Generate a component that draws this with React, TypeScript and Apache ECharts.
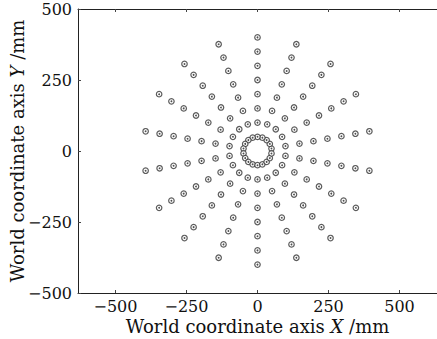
import React, { useEffect, useRef } from "react";
import * as echarts from "echarts";

// Target positions: polar grid
const angles = [10, 30, 50, 70, 90, 110, 130, 150, 170, 190, 210, 230, 250, 270, 290, 310, 330, 350]; // degrees
const radii = [50, 100, 150, 200, 250, 300, 350, 400]; // mm
const xTicks = [-500, -250, 0, 250, 500];
const yTicks = [-500, -250, 0, 250, 500];

const FONT = "DejaVu Serif";
const FS = 16;
const NFS = 18;
const fmt = (v: number) => String(v).replace("-", "\u2212");

export default function App() {
  const ref = useRef<HTMLDivElement>(null);
  useEffect(() => {
    document.body.style.margin = "0";
    const chart = echarts.init(ref.current!, null, { renderer: "svg" });
    const points: [number, number][] = [];
    for (const a of angles) for (const r of radii) points.push([r, a]);

    const gridLeft = 78, gridTop = 9, gridH = 284, gridRight = 0;
    const W = 437;
    const gridW = W - gridLeft - gridRight;
    const scale = gridH / 1000; // px per mm
    const xHalf = gridW / 2 / scale;
    const cx = gridLeft + gridW / 2;
    const cy = gridTop + gridH / 2;

    const axisCommon = {
      axisLine: { show: true, onZero: false, lineStyle: { color: "#222", width: 1 } },
      axisTick: { show: true, inside: true, length: 3, lineStyle: { color: "#444" } },
      splitLine: { show: false },
    };
    const nameStyle = {
      color: "#111",
      fontSize: NFS,
      fontFamily: FONT,
      rich: { i: { fontStyle: "italic", fontSize: NFS, fontFamily: FONT, color: "#111" } },
    };

    chart.setOption({
      animation: false,
      backgroundColor: "#fff",
      textStyle: { fontFamily: FONT },
      grid: {
        left: gridLeft,
        top: gridTop,
        height: gridH,
        right: gridRight,
        containLabel: false,
        outerBoundsMode: "none",
      },
      xAxis: [
        {
          type: "value",
          min: -xHalf,
          max: xHalf,
          ...axisCommon,
          axisTick: { ...axisCommon.axisTick, customValues: xTicks },
          axisLabel: {
            customValues: xTicks,
            formatter: fmt,
            color: "#111",
            fontSize: FS,
            lineHeight: 14,
            fontFamily: FONT,
            margin: 6,
          },
          name: "World coordinate axis {i|X} /mm",
          nameLocation: "middle",
          nameGap: 24,
          nameMoveOverlap: false,
          nameTextStyle: nameStyle,
        },
        {
          type: "value",
          position: "top",
          min: -xHalf,
          max: xHalf,
          ...axisCommon,
          axisTick: { ...axisCommon.axisTick, customValues: xTicks },
          axisLabel: { show: false },
        },
      ],
      yAxis: {
        type: "value",
        min: -500,
        max: 500,
        interval: 250,
        ...axisCommon,
        axisTick: { ...axisCommon.axisTick, customValues: yTicks },
        axisLabel: {
          customValues: yTicks,
          formatter: fmt,
          color: "#111",
          fontSize: FS,
          fontFamily: FONT,
          margin: 6,
        },
        name: "World coordinate axis {i|Y} /mm",
        nameLocation: "middle",
        nameGap: 52,
        nameMoveOverlap: false,
        nameTextStyle: nameStyle,
      },
      polar: { center: [cx, cy], radius: 400 * scale },
      angleAxis: {
        type: "value",
        min: 0,
        max: 360,
        startAngle: 0,
        clockwise: false,
        show: false,
      },
      radiusAxis: { type: "value", min: 0, max: 400, show: false },
      series: [
        {
          type: "scatter",
          coordinateSystem: "polar",
          data: points,
          symbol: "circle",
          symbolSize: 5.5,
          itemStyle: { color: "#fff", borderColor: "#333", borderWidth: 1.2 },
          silent: true,
        },
        {
          type: "scatter",
          coordinateSystem: "polar",
          data: points,
          symbol: "circle",
          symbolSize: 1.8,
          itemStyle: { color: "#222" },
          silent: true,
        },
      ],
    });
    return () => chart.dispose();
  }, []);
  return <div ref={ref} style={{ width: 437, height: 339 }} />;
}
